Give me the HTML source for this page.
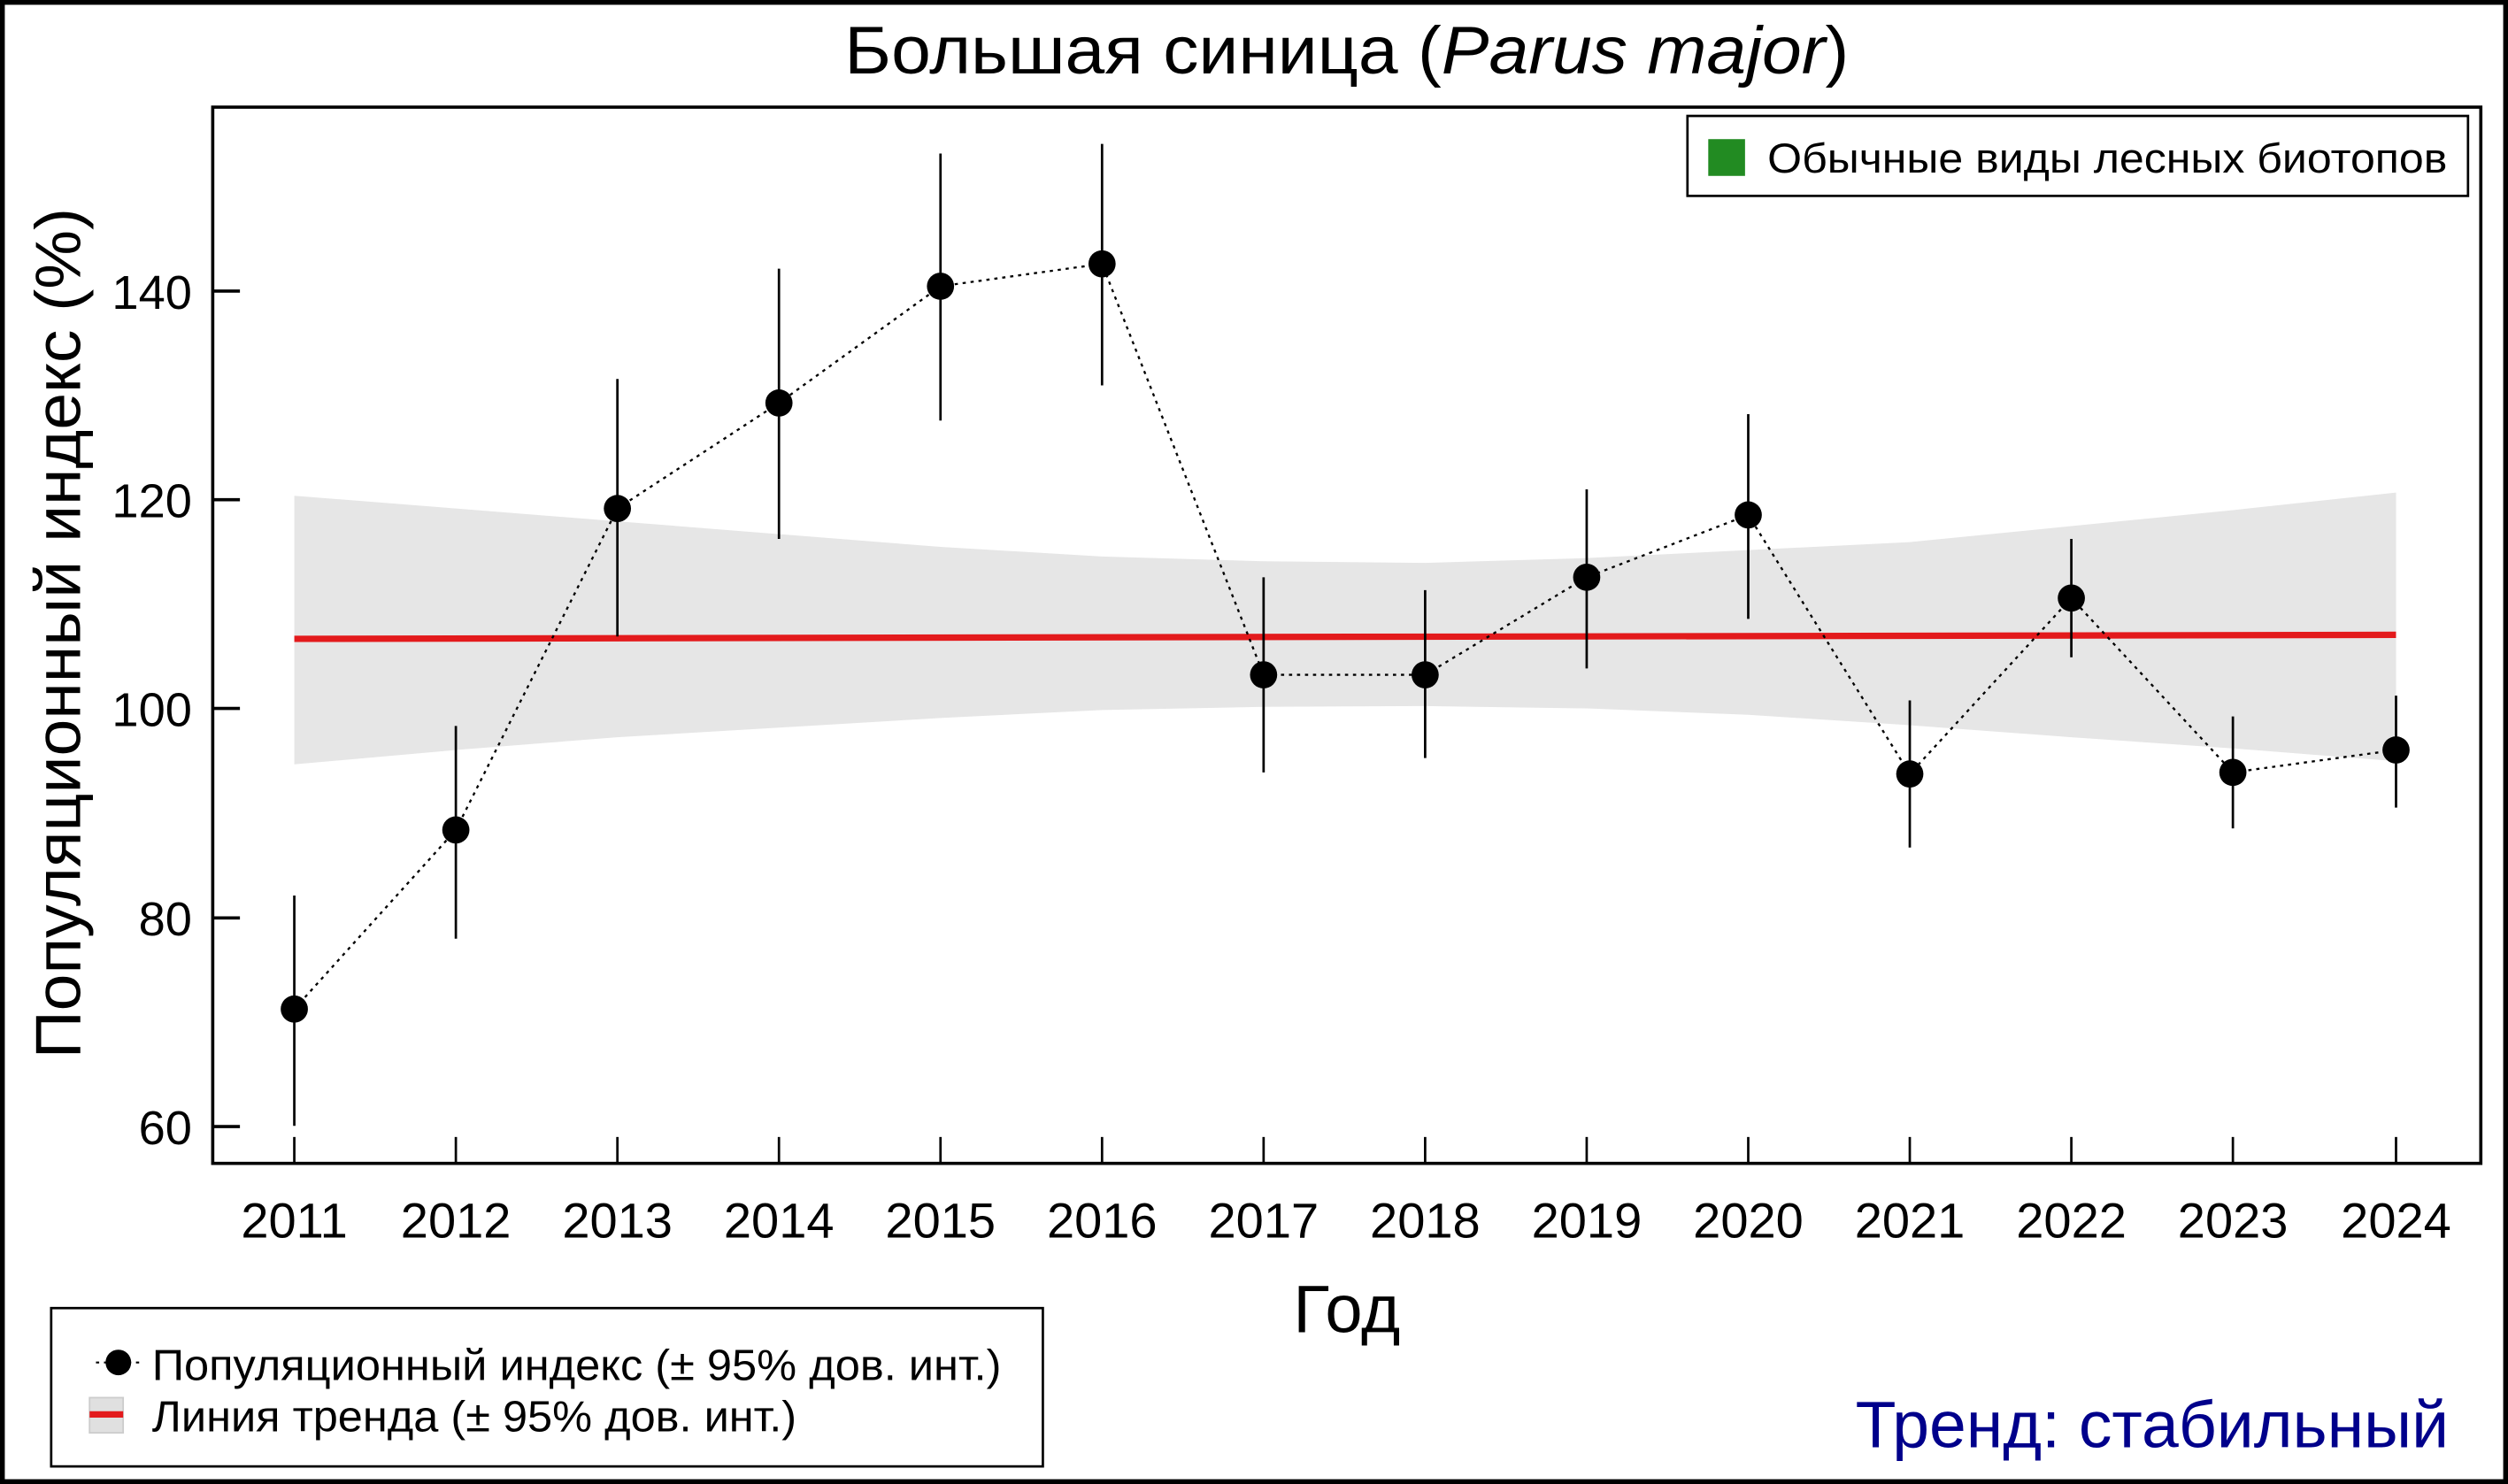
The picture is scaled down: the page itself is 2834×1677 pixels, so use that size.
<!DOCTYPE html>
<html><head><meta charset="utf-8">
<style>
html,body{margin:0;padding:0;background:#fff;}
svg{display:block;}
text{font-family:"Liberation Sans",Arial,sans-serif;fill:#000;}
</style></head>
<body>
<svg width="2834" height="1677" viewBox="0 0 1568 928" preserveAspectRatio="none" xmlns="http://www.w3.org/2000/svg">
<rect x="0" y="0" width="1568" height="928" fill="#fff"/>
<rect x="1.5" y="1.5" width="1565" height="925" fill="none" stroke="#000" stroke-width="3"/>

<!-- title -->
<text x="528" y="46" font-size="42" textLength="628" lengthAdjust="spacingAndGlyphs">Большая синица (<tspan font-style="italic">Parus major</tspan>)</text>

<!-- trend band -->
<polygon fill="#e6e6e6" points="184,310 285,318 386,326 487,334 588,342 689,348 790,351 891,352 992,349 1093,344 1194,339 1295,329 1396,319 1498,308 1498,476 1396,468 1295,461 1194,453.5 1093,447 992,443 891,441.5 790,442 689,444 588,449 487,455 386,461 285,469 184,478"/>
<line x1="184" y1="399.5" x2="1498" y2="397" stroke="#e31a1c" stroke-width="4"/>

<!-- plot frame -->
<rect x="133" y="67" width="1418" height="660.5" fill="none" stroke="#000" stroke-width="2"/>

<!-- y ticks -->
<g stroke="#000" stroke-width="2">
<line x1="133" y1="182" x2="150" y2="182"/>
<line x1="133" y1="312.5" x2="150" y2="312.5"/>
<line x1="133" y1="443" x2="150" y2="443"/>
<line x1="133" y1="574" x2="150" y2="574"/>
<line x1="133" y1="704.5" x2="150" y2="704.5"/>
</g>
<g font-size="30" text-anchor="end">
<text x="120" y="193">140</text>
<text x="120" y="323.5">120</text>
<text x="120" y="454">100</text>
<text x="120" y="585">80</text>
<text x="120" y="715.5">60</text>
</g>

<!-- x ticks & labels -->
<g stroke="#000" stroke-width="1.5">
<line x1="184" y1="711" x2="184" y2="727"/><line x1="285" y1="711" x2="285" y2="727"/>
<line x1="386" y1="711" x2="386" y2="727"/><line x1="487" y1="711" x2="487" y2="727"/>
<line x1="588" y1="711" x2="588" y2="727"/><line x1="689" y1="711" x2="689" y2="727"/>
<line x1="790" y1="711" x2="790" y2="727"/><line x1="891" y1="711" x2="891" y2="727"/>
<line x1="992" y1="711" x2="992" y2="727"/><line x1="1093" y1="711" x2="1093" y2="727"/>
<line x1="1194" y1="711" x2="1194" y2="727"/><line x1="1295" y1="711" x2="1295" y2="727"/>
<line x1="1396" y1="711" x2="1396" y2="727"/><line x1="1498" y1="711" x2="1498" y2="727"/>
</g>
<g font-size="31" text-anchor="middle">
<text x="184" y="774">2011</text><text x="285" y="774">2012</text><text x="386" y="774">2013</text>
<text x="487" y="774">2014</text><text x="588" y="774">2015</text><text x="689" y="774">2016</text>
<text x="790" y="774">2017</text><text x="891" y="774">2018</text><text x="992" y="774">2019</text>
<text x="1093" y="774">2020</text><text x="1194" y="774">2021</text><text x="1295" y="774">2022</text>
<text x="1396" y="774">2023</text><text x="1498" y="774">2024</text>
</g>

<text x="842" y="833" font-size="42" text-anchor="middle">Год</text>
<text transform="translate(50,662) rotate(-90)" font-size="40" textLength="532" lengthAdjust="spacingAndGlyphs">Популяционный индекс (%)</text>

<!-- dotted connecting line -->
<polyline fill="none" stroke="#000" stroke-width="1.3" stroke-dasharray="2,3" points="184,631 285,519 386,318 487,252 588,179 689,165 790,422 891,422 992,361 1093,322 1194,484 1295,374 1396,483 1498,469"/>

<!-- error bars -->
<g stroke="#000" stroke-width="1.5">
<line x1="184" y1="560" x2="184" y2="704"/>
<line x1="285" y1="454" x2="285" y2="587"/>
<line x1="386" y1="237" x2="386" y2="398"/>
<line x1="487" y1="168" x2="487" y2="337"/>
<line x1="588" y1="96" x2="588" y2="263"/>
<line x1="689" y1="90" x2="689" y2="241"/>
<line x1="790" y1="361" x2="790" y2="483"/>
<line x1="891" y1="369" x2="891" y2="474"/>
<line x1="992" y1="306" x2="992" y2="418"/>
<line x1="1093" y1="259" x2="1093" y2="387"/>
<line x1="1194" y1="438" x2="1194" y2="530"/>
<line x1="1295" y1="337" x2="1295" y2="411"/>
<line x1="1396" y1="448" x2="1396" y2="518"/>
<line x1="1498" y1="435" x2="1498" y2="505"/>
</g>
<g fill="#000">
<circle cx="184" cy="631" r="8.5"/><circle cx="285" cy="519" r="8.5"/><circle cx="386" cy="318" r="8.5"/>
<circle cx="487" cy="252" r="8.5"/><circle cx="588" cy="179" r="8.5"/><circle cx="689" cy="165" r="8.5"/>
<circle cx="790" cy="422" r="8.5"/><circle cx="891" cy="422" r="8.5"/><circle cx="992" cy="361" r="8.5"/>
<circle cx="1093" cy="322" r="8.5"/><circle cx="1194" cy="484" r="8.5"/><circle cx="1295" cy="374" r="8.5"/>
<circle cx="1396" cy="483" r="8.5"/><circle cx="1498" cy="469" r="8.5"/>
</g>

<!-- top-right legend -->
<rect x="1055" y="72.5" width="488" height="50" fill="#fff" stroke="#000" stroke-width="1.5"/>
<rect x="1068" y="87" width="23" height="23" fill="#228b22"/>
<text x="1105" y="108" font-size="26" textLength="425" lengthAdjust="spacingAndGlyphs">Обычные виды лесных биотопов</text>

<!-- bottom legend -->
<rect x="32" y="818" width="620" height="99" fill="#fff" stroke="#000" stroke-width="1.5"/>
<line x1="60" y1="852" x2="88" y2="852" stroke="#000" stroke-width="1.2" stroke-dasharray="2,3"/>
<circle cx="74" cy="852" r="8" fill="#000"/>
<text x="95" y="863" font-size="27" textLength="531" lengthAdjust="spacingAndGlyphs">Популяционный индекс (± 95% дов. инт.)</text>
<rect x="56" y="874" width="21" height="22" fill="#e0e0e0" stroke="#ccc" stroke-width="1"/>
<line x1="56" y1="884.5" x2="77" y2="884.5" stroke="#e31a1c" stroke-width="4"/>
<text x="95" y="895" font-size="27" textLength="403" lengthAdjust="spacingAndGlyphs">Линия тренда (± 95% дов. инт.)</text>

<text x="1160" y="905" font-size="41" textLength="371" lengthAdjust="spacingAndGlyphs" style="fill:#00008b">Тренд: стабильный</text>
</svg>
</body></html>
